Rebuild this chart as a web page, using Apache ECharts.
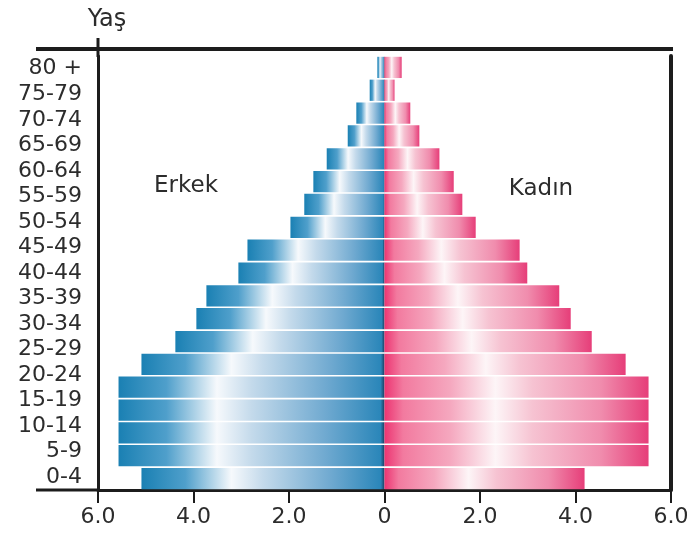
<!DOCTYPE html>
<html>
<head>
<meta charset="utf-8">
<script src="https://cdn.jsdelivr.net/npm/echarts@6/dist/echarts.min.js"></script>
<style>
html,body{margin:0;padding:0;background:#fff;}
#chart{width:695px;height:533px;}
</style>
</head>
<body>
<div id="chart"></div>
<script>
// Visible age labels on the vertical axis (bottom to top)
const ageLabels = ['0-4','5-9','10-14','15-19','20-24','25-29','30-34','35-39','40-44','45-49','50-54','55-59','60-64','65-69','70-74','75-79','80 +'];
// The picture draws 19 bar rows (bottom to top)
const barGroups = ['0-4','5-9','10-14','15-19','20-24','25-29','30-34','35-39','40-44','45-49','50-54','55-59','60-64','65-69','70-74','75-79','80-84','85-89','90+'];
// Values (percent)
const maleValues   = [5.09, 5.57, 5.57, 5.57, 5.57, 5.09, 4.38, 3.94, 3.73, 3.06, 2.87, 1.97, 1.68, 1.49, 1.21, 0.77, 0.59, 0.31, 0.15];
const femaleValues = [4.19, 5.53, 5.53, 5.53, 5.53, 5.05, 4.34, 3.90, 3.66, 2.99, 2.83, 1.91, 1.63, 1.45, 1.15, 0.73, 0.54, 0.21, 0.36];
const xTickLabels = ['6.0','4.0','2.0','0','2.0','4.0','6.0'];

const FONT = 'DejaVu Sans';
const INK = '#1c1c1c';
const TXT = '#2c2c2c';

const maleGrad = new echarts.graphic.LinearGradient(0, 0, 1, 0, [
  {offset: 0, color: '#1a80b3'},
  {offset: 0.18, color: '#4f9fcb'},
  {offset: 0.37, color: '#f6f9fc'},
  {offset: 0.5, color: '#c4daeb'},
  {offset: 0.78, color: '#6fa9d0'},
  {offset: 0.985, color: '#2a86b9'},
  {offset: 1, color: '#1d3d60'}
]);
const femaleGrad = new echarts.graphic.LinearGradient(0, 0, 1, 0, [
  {offset: 0, color: '#ec3572'},
  {offset: 0.07, color: '#f27a9f'},
  {offset: 0.25, color: '#f5a8bf'},
  {offset: 0.42, color: '#fdf5f7'},
  {offset: 0.56, color: '#f6c3d2'},
  {offset: 0.82, color: '#f08cad'},
  {offset: 1, color: '#e63e79'}
]);

const chart = echarts.init(document.getElementById('chart'), null, {renderer: 'canvas'});
chart.setOption({
  animation: false,
  backgroundColor: '#ffffff',
  grid: {left: 98, right: 24, top: 56, bottom: 43},
  xAxis: {
    type: 'value', min: -6, max: 6, interval: 2,
    axisLine: {show: true, lineStyle: {color: INK, width: 3}},
    axisTick: {show: true, length: 13, lineStyle: {color: INK, width: 2}},
    axisLabel: {
      formatter: v => xTickLabels[Math.round((v + 6) / 2)],
      fontFamily: FONT, fontSize: 22, color: TXT, margin: 16
    },
    splitLine: {show: false}
  },
  yAxis: [
    {
      type: 'category', data: ageLabels, position: 'left',
      name: 'Yaş', nameLocation: 'end', nameGap: 24,
      nameTextStyle: {fontFamily: FONT, fontSize: 24, color: TXT, padding: [0, 0, 0, 18]},
      axisLine: {show: true, onZero: false, lineStyle: {color: INK, width: 3}},
      axisTick: {show: false},
      axisLabel: {interval: 0, fontFamily: FONT, fontSize: 22, color: TXT, margin: 16}
    },
    {
      type: 'category', data: barGroups, position: 'right',
      axisLine: {show: true, onZero: false, lineStyle: {color: INK, width: 4}},
      axisTick: {show: false},
      axisLabel: {show: false}
    }
  ],
  series: [
    {
      name: 'Erkek', type: 'bar', stack: 'pyr', yAxisIndex: 1,
      data: maleValues.map(v => -v),
      barCategoryGap: '7%',
      itemStyle: {color: maleGrad}
    },
    {
      name: 'Kadın', type: 'bar', stack: 'pyr', yAxisIndex: 1,
      data: femaleValues,
      barCategoryGap: '7%',
      itemStyle: {color: femaleGrad}
    }
  ],
  graphic: [
    {type: 'line', shape: {x1: 36, y1: 49, x2: 673, y2: 49}, style: {stroke: INK, lineWidth: 4}},
    {type: 'line', shape: {x1: 36, y1: 490, x2: 98, y2: 490}, style: {stroke: INK, lineWidth: 3}},
    {type: 'line', shape: {x1: 98, y1: 38, x2: 98, y2: 57}, style: {stroke: INK, lineWidth: 3}},
    {type: 'text', x: 186, y: 186, style: {text: 'Erkek', font: '23px "DejaVu Sans"', fill: TXT, align: 'center', verticalAlign: 'middle'}},
    {type: 'text', x: 541, y: 189, style: {text: 'Kadın', font: '23px "DejaVu Sans"', fill: TXT, align: 'center', verticalAlign: 'middle'}}
  ]
});
</script>
</body>
</html>
